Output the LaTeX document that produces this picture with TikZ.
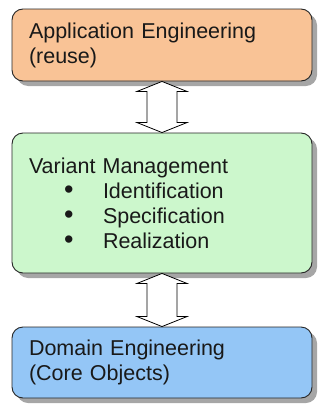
\documentclass[tikz,border=0pt]{standalone}
\usepackage{fontspec}
\setmainfont{Liberation Sans}
\usetikzlibrary{shadows}
\definecolor{apporange}{HTML}{F9C396}
\definecolor{vargreen}{HTML}{CCF7CC}
\definecolor{domblue}{HTML}{94C6F6}
\newcommand{\bigbul}{\hspace*{35pt}\makebox[39pt][l]{\raisebox{-0.5pt}{\fontsize{27}{25}\selectfont\textbullet}}}
\begin{document}
\begin{tikzpicture}[x=1pt,y=-1pt,
  box/.style={draw=black!85, line width=0.9pt, rounded corners=11pt,
    minimum width=300pt, inner sep=0pt, text width=266pt, align=left,
    font=\fontsize{21.5}{25}\selectfont, text=black!90,
    drop shadow={shadow xshift=5pt, shadow yshift=-5pt, fill=black!35, opacity=1}},
  blk/.style={draw=black, line width=0.8pt, fill=white}]
\useasboundingbox (0,0) rectangle (320,407);
\node[box, fill=apporange, minimum height=72pt] (app) at (162,45)
  {Application Engineering\\(reuse)};
\node[box, fill=vargreen, minimum height=140pt] (var) at (162,203)
  {Variant Management\\
   \bigbul Identification\\
   \bigbul Specification\\
   \bigbul Realization};
\node[box, fill=domblue, minimum height=71pt] (dom) at (162,362.5)
  {Domain Engineering\\(Core Objects)};
\foreach \a/\b in {app/var, var/dom}{
  \draw[blk] (\a.south) -- ([xshift=-25pt,yshift=-10pt]\a.south)
    -- ([xshift=-15pt,yshift=-10pt]\a.south)
    -- ([xshift=-15pt,yshift=10pt]\b.north)
    -- ([xshift=-25pt,yshift=10pt]\b.north)
    -- (\b.north)
    -- ([xshift=25pt,yshift=10pt]\b.north)
    -- ([xshift=15pt,yshift=10pt]\b.north)
    -- ([xshift=15pt,yshift=-10pt]\a.south)
    -- ([xshift=25pt,yshift=-10pt]\a.south) -- cycle;
}
\end{tikzpicture}
\end{document}
